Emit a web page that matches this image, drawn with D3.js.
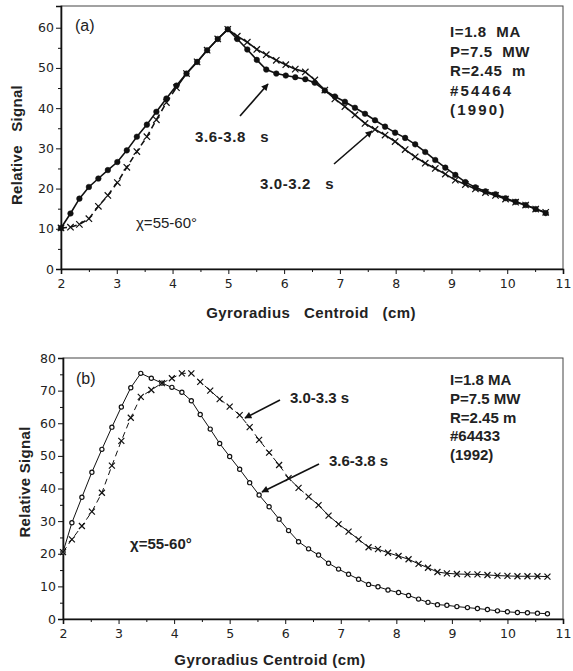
<!DOCTYPE html>
<html>
<head>
<meta charset="utf-8">
<script src="https://cdn.jsdelivr.net/npm/d3@7"></script>
<style>
  body { margin: 0; background: #fff; }
  svg { display: block; font-family: "Liberation Sans", Arial, sans-serif; }
</style>
</head>
<body>
<div id="chart"></div>
<script>
// Panel (a): shot #54464 (1990)
const xA = [2.00,2.17,2.33,2.50,2.67,2.84,3.01,3.18,3.36,3.54,3.71,3.89,4.07,4.25,4.44,4.62,4.81,4.99,5.16,5.34,
  5.51,5.68,5.86,6.03,6.20,6.38,6.55,6.73,6.91,7.09,7.27,7.45,7.63,7.81,7.99,8.17,8.35,8.53,8.71,8.89,
  9.07,9.25,9.43,9.61,9.79,9.97,10.15,10.33,10.51,10.69];
const late_a = [10.2,13.8,17.5,20.4,22.5,24.6,26.6,29.5,32.9,35.9,39.1,42.4,45.6,48.6,51.5,54.4,57.2,59.6,57.2,54.6,
  52.0,49.6,48.6,48.1,47.7,47.2,46.3,44.4,42.9,41.6,40.1,38.6,37.0,35.4,33.9,32.6,31.0,29.1,27.1,25.2,
  23.4,21.6,20.3,19.3,18.6,17.6,16.7,15.9,14.9,13.9];   // 3.6-3.8 s
const early_a = [10.2,10.4,11.1,12.5,15.6,18.3,21.5,25.3,29.2,32.9,37.1,41.4,45.1,48.6,51.5,54.4,57.2,59.6,57.9,56.4,
  54.6,53.3,51.9,50.8,49.7,49.0,47.0,44.5,42.3,40.4,38.3,36.2,34.7,33.3,31.7,29.7,27.9,26.3,25.0,23.6,
  22.1,21.0,19.9,19.0,18.3,17.4,16.6,15.9,14.9,14.1];  // 3.0-3.2 s

// Panel (b): shot #64433 (1992)
const xB = [2.00,2.16,2.34,2.52,2.70,2.88,3.05,3.22,3.40,3.59,3.78,3.96,4.14,4.31,4.47,4.65,4.82,5.00,5.18,5.36,
  5.53,5.71,5.89,6.06,6.24,6.42,6.60,6.78,6.96,7.14,7.32,7.50,7.67,7.85,8.04,8.22,8.40,8.57,8.74,8.91,
  9.09,9.28,9.46,9.64,9.82,10.00,10.18,10.36,10.54,10.72];
const late_b = [20.5,29.5,37.3,45.0,52.0,58.8,65.0,70.9,75.3,73.8,72.3,71.0,69.5,66.9,62.7,58.2,53.8,49.8,45.9,41.8,
  38.0,34.4,30.6,27.1,23.7,21.5,19.6,17.1,15.3,13.7,12.2,10.6,9.9,8.9,8.1,7.2,6.1,5.1,4.4,4.2,
  3.8,3.5,3.2,2.9,2.5,2.2,2.0,1.9,1.8,1.6];   // 3.6-3.8 s
const early_b = [20.5,24.4,28.5,32.9,38.7,47.0,54.6,61.7,68.1,70.2,72.3,73.8,75.3,75.3,72.7,70.0,67.4,65.1,62.5,58.8,
  54.9,51.0,47.2,43.2,40.2,37.5,34.9,31.7,29.1,26.8,24.4,22.0,21.4,20.3,19.3,18.3,16.9,15.7,14.4,14.0,
  13.8,13.7,13.7,13.5,13.3,13.2,13.1,13.1,13.1,13.0];  // 3.0-3.3 s

const xTicks = [2,3,4,5,6,7,8,9,10,11];
const yTicksA = [0,10,20,30,40,50,60];
const yTicksB = [0,10,20,30,40,50,60,70,80];
const infoA = ["I=1.8  MA", "P=7.5  MW", "R=2.45  m", "#54464", "(1990)"];
const infoB = ["I=1.8 MA", "P=7.5 MW", "R=2.45 m", "#64433", "(1992)"];

const width = 573, height = 671;
const svg = d3.select("#chart").append("svg")
  .attr("width", width).attr("height", height);

svg.append("defs").append("marker")
  .attr("id", "arrow")
  .attr("viewBox", "0 0 10 10")
  .attr("refX", 9).attr("refY", 5)
  .attr("markerWidth", 9).attr("markerHeight", 7)
  .attr("markerUnits", "userSpaceOnUse")
  .attr("orient", "auto")
  .append("path").attr("d", "M0,0 L10,5 L0,10 Z").attr("fill", "#111");

function drawPanel(p) {
  const x = d3.scaleLinear().domain([2, 11]).range(p.xRange);
  const y = d3.scaleLinear().domain(p.yDomain).range(p.yRange);
  const g = svg.append("g");

  // frame
  g.append("rect")
    .attr("x", x(2)).attr("y", y.range()[1])
    .attr("width", x(11) - x(2)).attr("height", y.range()[0] - y.range()[1])
    .attr("fill", "none").attr("stroke", "#444").attr("stroke-width", 1);

  // minor ticks
  g.append("g").attr("transform", `translate(0,${y(0)})`)
    .call(d3.axisBottom(x).tickValues(d3.range(2.5, 11, 1)).tickSize(3).tickFormat(""))
    .call(a => a.select(".domain").remove());
  g.append("g").attr("transform", `translate(${x(2)},0)`)
    .call(d3.axisLeft(y).tickValues(p.yTicks.slice(0, -1).map(v => v + 5)).tickSize(3).tickFormat(""))
    .call(a => a.select(".domain").remove());

  // major axes
  const xAxis = g.append("g").attr("transform", `translate(0,${y(0)})`)
    .call(d3.axisBottom(x).tickValues(xTicks).tickSize(5).tickPadding(5).tickFormat(d3.format("d")));
  const yAxis = g.append("g").attr("transform", `translate(${x(2)},0)`)
    .call(d3.axisLeft(y).tickValues(p.yTicks).tickSize(5).tickPadding(2).tickFormat(d3.format("d")));
  [xAxis, yAxis].forEach(a => {
    a.select(".domain").attr("stroke-width", 1.6).attr("stroke", "#111");
    a.selectAll("text").attr("fill", "#222")
      .attr("font-family", "'DejaVu Sans', sans-serif").attr("font-size", 12.5);
  });
  g.selectAll(".tick line").attr("stroke", "#111");

  // axis titles
  g.append("text")
    .attr("x", p.xTitlePos[0]).attr("y", p.xTitlePos[1])
    .attr("text-anchor", "middle").attr("font-weight", "bold").attr("font-size", 15)
    .attr("letter-spacing", 0.4)
    .attr("fill", "#222").style("white-space", "pre")
    .text(p.xTitle);
  g.append("text")
    .attr("transform", `translate(${p.yTitlePos[0]},${p.yTitlePos[1]}) rotate(-90)`)
    .attr("text-anchor", "middle").attr("font-weight", "bold").attr("font-size", 15)
    .attr("letter-spacing", 0.3)
    .attr("fill", "#222").style("white-space", "pre")
    .text(p.yTitle);

  const line = d3.line().x(d => x(d[0])).y(d => y(d[1]));
  const pts = (xs, ys) => xs.map((v, i) => [v, ys[i]]);

  // circle series (3.6-3.8 s)
  const cData = pts(p.xs, p.late);
  g.append("path").attr("d", line(cData))
    .attr("fill", "none").attr("stroke", "#111").attr("stroke-width", p.lw);
  g.selectAll(".dot").data(cData).join("circle")
    .attr("cx", d => x(d[0])).attr("cy", d => y(d[1]))
    .attr("r", p.dotR)
    .attr("fill", p.hollow ? "#fff" : "#111")
    .attr("stroke", "#111").attr("stroke-width", p.hollow ? 1.2 : 0.5);

  // cross series (early window): dashed on one stretch, solid after
  const xData = pts(p.xs, p.early);
  const split = p.xs.findIndex(v => v >= p.dashUntil);
  g.append("path").attr("d", line(xData.slice(0, split + 1)))
    .attr("fill", "none").attr("stroke", "#111").attr("stroke-width", p.lw)
    .attr("stroke-dasharray", "6,4");
  g.append("path").attr("d", line(xData.slice(split)))
    .attr("fill", "none").attr("stroke", "#111").attr("stroke-width", p.lw);
  const s = p.crossS;
  g.selectAll(".cross").data(xData).join("path")
    .attr("d", d => {
      const cx = x(d[0]), cy = y(d[1]);
      return `M${cx - s},${cy - s}L${cx + s},${cy + s}M${cx - s},${cy + s}L${cx + s},${cy - s}`;
    })
    .attr("stroke", "#111").attr("stroke-width", 1.2);

  // panel letter
  g.append("text").attr("x", p.letterPos[0]).attr("y", p.letterPos[1])
    .attr("font-size", 16).attr("fill", "#222").text(p.letter);

  // shot info
  g.append("g").selectAll("text").data(p.info).join("text")
    .attr("x", p.infoPos[0]).attr("y", (d, i) => p.infoPos[1] + i * p.infoStep)
    .attr("font-weight", "bold").attr("font-size", 15).attr("fill", "#222")
    .attr("letter-spacing", (d, i) => p.spaced ? (i >= 3 ? 2.2 : 0.6) : 0)
    .style("white-space", "pre")
    .text(d => d);

  // angle label
  g.append("text").attr("x", p.chiPos[0]).attr("y", p.chiPos[1])
    .attr("font-size", 15).attr("fill", "#222").attr("font-weight", p.chiBold ? "bold" : "normal")
    .text("χ=55-60°");

  // time-window labels with arrows
  p.notes.forEach(n => {
    g.append("text").attr("x", n.tx).attr("y", n.ty)
      .attr("font-weight", "bold").attr("font-size", 15).attr("fill", "#222")
      .attr("letter-spacing", n.ls)
      .style("white-space", "pre").text(n.text);
    g.append("line")
      .attr("x1", n.a[0]).attr("y1", n.a[1]).attr("x2", n.a[2]).attr("y2", n.a[3])
      .attr("stroke", "#111").attr("stroke-width", 1.6)
      .attr("marker-end", "url(#arrow)");
  });
}

drawPanel({
  xs: xA, late: late_a, early: early_a,
  xRange: [61, 563], yDomain: [0, 65.4], yRange: [269, 6], yTicks: yTicksA,
  xTitle: "Gyroradius   Centroid   (cm)", xTitlePos: [311, 318],
  yTitle: "Relative   Signal", yTitlePos: [22, 145],
  lw: 1.6, dotR: 2.8, hollow: false, crossS: 3.2, dashUntil: 4.07,
  letter: "(a)", letterPos: [75, 31],
  info: infoA, infoPos: [450, 37], infoStep: 19.5, spaced: true,
  chiPos: [136, 228], chiBold: false,
  notes: [
    { text: "3.6-3.8   s", tx: 195, ty: 142, ls: 0.6, a: [240, 116, 268, 84] },
    { text: "3.0-3.2   s", tx: 260, ty: 189, ls: 0.6, a: [334, 164, 372, 131] }
  ]
});

drawPanel({
  xs: xB, late: late_b, early: early_b,
  xRange: [63, 563], yDomain: [0, 80], yRange: [619, 358], yTicks: yTicksB,
  xTitle: "Gyroradius Centroid (cm)", xTitlePos: [270, 665],
  yTitle: "Relative Signal", yTitlePos: [30, 482],
  lw: 1, dotR: 2.1, hollow: true, crossS: 3, dashUntil: 6.4,
  letter: "(b)", letterPos: [76, 384],
  info: infoB, infoPos: [450, 385], infoStep: 18.8, spaced: false,
  chiPos: [130, 549], chiBold: true,
  notes: [
    { text: "3.0-3.3 s", tx: 290, ty: 403, ls: 0, a: [280, 400, 245, 418] },
    { text: "3.6-3.8 s", tx: 329, ty: 466, ls: 0, a: [319, 464, 262, 492] }
  ]
});
</script>
</body>
</html>
